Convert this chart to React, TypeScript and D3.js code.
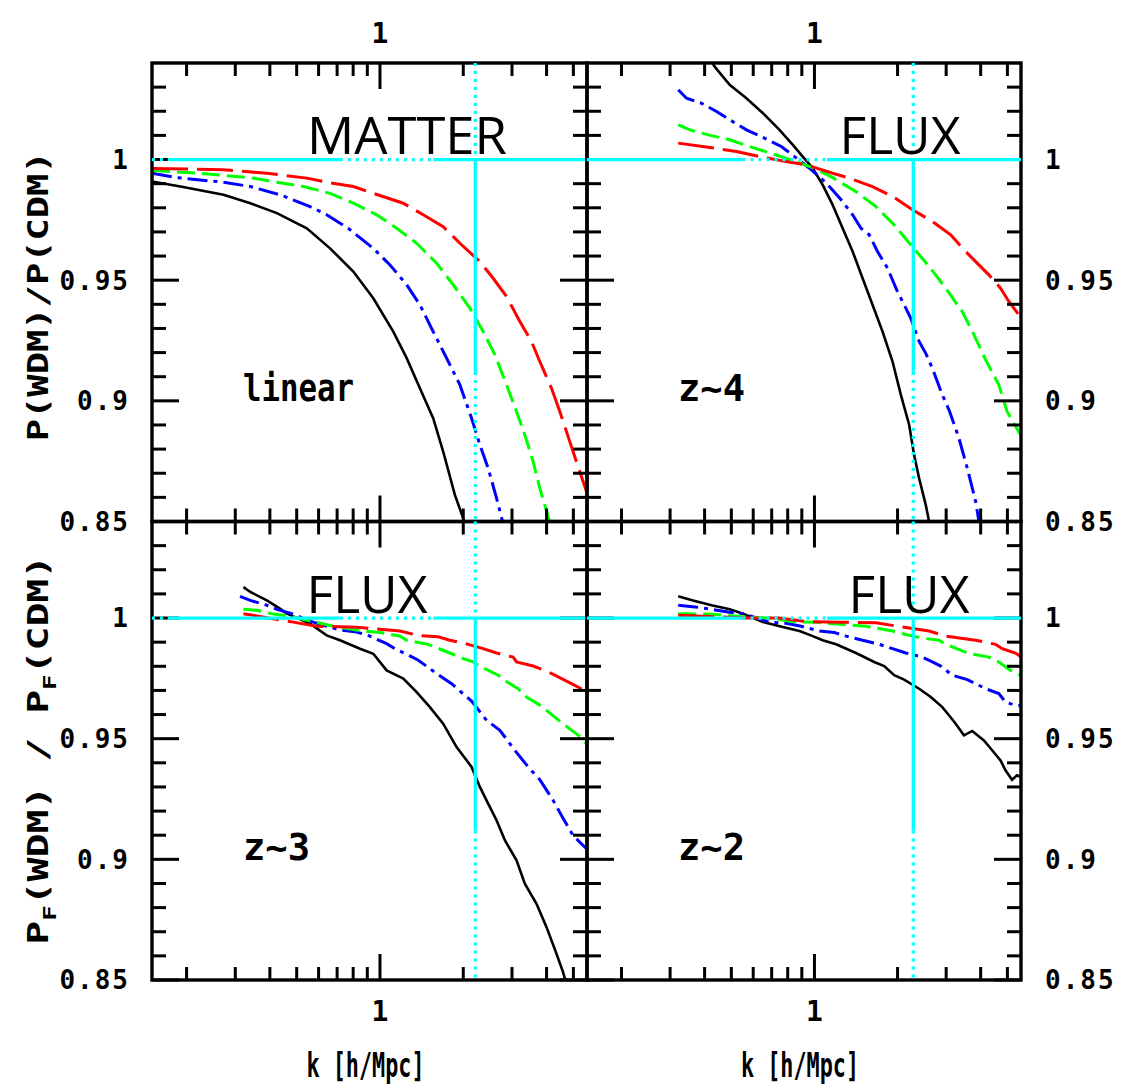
import React from 'react';
import * as d3 from 'd3';

type Pt = [number, number];

// ---- data: [k (h/Mpc), P_WDM / P_CDM] ----
const matterBlack: Pt[] = [[0.15,0.9909],[0.19,0.9888],[0.272,0.9854],[0.34,0.9819],[0.424,0.9778],[0.544,0.9715],[0.66,0.9632],[0.801,0.9536],[0.946,0.9425],[1.117,0.9287],[1.249,0.9177],[1.394,0.9052],[1.557,0.8928],[1.692,0.879],[1.865,0.861],[1.998,0.8514],[2.08,0.845]];
const matterBlue: Pt[] = [[0.15,0.9943],[0.1845,0.9925],[0.272,0.9906],[0.34,0.9888],[0.435,0.9854],[0.559,0.9805],[0.642,0.9771],[0.768,0.9715],[0.946,0.9632],[1.087,0.9563],[1.249,0.9481],[1.394,0.9398],[1.557,0.9287],[1.741,0.9177],[1.945,0.9066],[2.143,0.8928],[2.296,0.8818],[2.46,0.8721],[2.638,0.8597],[2.734,0.8528],[2.8,0.848]];
const matterGreen: Pt[] = [[0.15,0.9955],[0.221,0.9943],[0.34,0.9925],[0.424,0.9906],[0.529,0.9888],[0.66,0.986],[0.801,0.9819],[0.973,0.9771],[1.149,0.9715],[1.357,0.9653],[1.602,0.957],[1.839,0.9481],[2.113,0.9384],[2.36,0.9287],[2.602,0.9191],[2.867,0.9066],[3.115,0.8956],[3.338,0.8859],[3.577,0.8748],[3.781,0.8638],[4.052,0.8521],[4.15,0.848]];
const matterRed: Pt[] = [[0.15,0.9963],[0.272,0.9958],[0.39,0.9943],[0.544,0.9923],[0.642,0.9906],[0.801,0.9888],[0.946,0.986],[1.214,0.9819],[1.433,0.9771],[1.692,0.9722],[1.945,0.9653],[2.296,0.9577],[2.564,0.9508],[2.867,0.9432],[3.202,0.9329],[3.528,0.9246],[3.781,0.9163],[4.168,0.9052],[4.466,0.8956],[4.853,0.8831],[5.129,0.8748],[5.576,0.8624]];

const z4Black: Pt[] = [[0.4,1.045],[0.435,1.0385],[0.493,1.031],[0.567,1.0254],[0.651,1.0192],[0.747,1.0123],[0.835,1.0061],[0.907,1.0012],[0.986,0.9964],[1.071,0.9895],[1.164,0.9812],[1.265,0.9715],[1.375,0.9619],[1.494,0.9508],[1.623,0.9398],[1.765,0.9287],[1.918,0.9163],[2.056,0.9025],[2.203,0.8901],[2.296,0.8776],[2.394,0.8679],[2.53,0.8569],[2.602,0.85],[2.65,0.845]];
const z4Blue: Pt[] = [[0.321,1.0289],[0.344,1.0254],[0.39,1.0233],[0.442,1.0199],[0.493,1.0165],[0.567,1.0123],[0.642,1.0095],[0.758,1.0054],[0.817,1.0026],[0.959,0.9964],[1.071,0.9916],[1.133,0.9888],[1.249,0.9833],[1.375,0.9771],[1.474,0.9715],[1.579,0.9688],[1.692,0.9619],[1.839,0.955],[1.998,0.9453],[2.113,0.9398],[2.234,0.9342],[2.394,0.9246],[2.53,0.9197],[2.674,0.9135],[2.905,0.9025],[3.071,0.8963],[3.338,0.8845],[3.577,0.8721],[3.836,0.8583],[3.943,0.85],[4.0,0.846]];
const z4Green: Pt[] = [[0.321,1.0144],[0.354,1.0123],[0.412,1.0102],[0.493,1.0082],[0.607,1.0047],[0.758,1.0012],[1.0,0.9964],[1.164,0.9925],[1.414,0.9867],[1.67,0.9805],[1.945,0.9729],[2.234,0.9646],[2.602,0.9557],[2.988,0.9467],[3.431,0.937],[3.781,0.9274],[4.168,0.917],[4.655,0.9066],[4.986,0.8956],[5.576,0.8859]];
const z4Red: Pt[] = [[0.321,1.0068],[0.418,1.005],[0.522,1.0033],[0.633,1.0012],[0.79,0.9992],[0.933,0.9978],[1.164,0.9943],[1.338,0.9923],[1.623,0.9888],[1.918,0.9847],[2.264,0.9792],[2.674,0.9743],[3.115,0.9688],[3.528,0.9619],[3.836,0.9577],[4.282,0.9522],[4.721,0.9467],[5.058,0.9412],[5.5,0.9356],[5.6,0.934]];

const z3Black: Pt[] = [[0.321,1.0128],[0.34,1.0108],[0.39,1.0073],[0.435,1.0039],[0.461,1.0018],[0.559,0.9977],[0.642,0.9928],[0.717,0.9908],[0.847,0.9873],[0.946,0.9852],[1.057,0.9783],[1.214,0.9749],[1.357,0.9693],[1.515,0.9631],[1.692,0.9562],[1.892,0.9465],[2.143,0.9383],[2.296,0.93],[2.46,0.9231],[2.638,0.9162],[2.827,0.9079],[3.115,0.8996],[3.338,0.8899],[3.679,0.8816],[3.999,0.8719],[4.344,0.8609],[4.588,0.8533],[4.7,0.849]];
const z3Blue: Pt[] = [[0.312,1.009],[0.34,1.0073],[0.39,1.0053],[0.424,1.0036],[0.48,1.0018],[0.574,0.9983],[0.717,0.995],[0.824,0.9942],[0.92,0.9925],[1.057,0.9894],[1.133,0.9873],[1.283,0.9843],[1.375,0.9825],[1.602,0.977],[1.815,0.9728],[1.933,0.97],[2.143,0.9656],[2.428,0.9576],[2.712,0.9535],[3.071,0.9452],[3.431,0.9383],[3.781,0.933],[4.223,0.9245],[4.529,0.9182],[4.986,0.9099],[5.576,0.9044]];
const z3Green: Pt[] = [[0.321,1.0036],[0.359,1.0032],[0.406,1.0018],[0.473,1.0007],[0.678,0.9966],[0.847,0.9948],[1.0,0.994],[1.181,0.9925],[1.249,0.9908],[1.494,0.9891],[1.815,0.9852],[1.945,0.9836],[2.172,0.9818],[2.296,0.98],[2.674,0.9763],[2.787,0.9745],[3.157,0.9707],[3.385,0.9673],[3.886,0.9631],[3.999,0.9617],[4.588,0.9562],[4.783,0.9546],[5.272,0.951],[5.576,0.9479]];
const z3Red: Pt[] = [[0.321,1.0018],[0.486,0.9983],[0.591,0.9966],[0.824,0.9962],[1.181,0.9946],[1.375,0.9928],[1.623,0.9922],[1.789,0.9908],[2.084,0.9891],[2.36,0.9873],[2.638,0.9855],[3.028,0.9838],[3.115,0.9818],[3.577,0.9801],[3.943,0.9783],[4.282,0.9763],[4.92,0.9728],[5.272,0.971],[5.576,0.9693]];

const z2Black: Pt[] = [[0.321,1.009],[0.363,1.0073],[0.424,1.0053],[0.493,1.0036],[0.551,1.0018],[0.651,0.9983],[0.768,0.9963],[0.883,0.9946],[0.986,0.9925],[1.071,0.9908],[1.198,0.9891],[1.414,0.9855],[1.646,0.9818],[1.789,0.9801],[1.945,0.9763],[2.113,0.9745],[2.394,0.9707],[2.638,0.9673],[2.905,0.9631],[3.071,0.9597],[3.248,0.9562],[3.479,0.9514],[3.728,0.9532],[4.11,0.9493],[4.402,0.9452],[4.721,0.941],[4.92,0.9369],[5.198,0.933],[5.42,0.9348],[5.6,0.934]];
const z2Blue: Pt[] = [[0.321,1.0053],[0.369,1.0046],[0.424,1.0036],[0.486,1.0025],[0.551,1.0018],[0.688,0.9983],[0.79,0.9978],[0.895,0.9966],[1.043,0.9946],[1.181,0.994],[1.302,0.9925],[1.494,0.9908],[1.717,0.9891],[1.918,0.9873],[2.143,0.9855],[2.46,0.9838],[2.674,0.9818],[2.867,0.9801],[3.157,0.9763],[3.577,0.9745],[3.836,0.9728],[4.168,0.9707],[4.655,0.9687],[4.92,0.9652],[5.347,0.9638],[5.6,0.9638]];
const z2Green: Pt[] = [[0.321,1.0018],[0.429,1.0016],[0.567,1.0004],[0.688,1.0],[0.835,0.9985],[1.014,0.9982],[1.537,0.9966],[1.918,0.9946],[2.264,0.9925],[2.53,0.9915],[2.827,0.9908],[2.988,0.9891],[3.577,0.9855],[4.282,0.9838],[4.655,0.9818],[5.129,0.9783],[5.576,0.9763]];
const z2Red: Pt[] = [[0.321,1.0012],[0.559,1.0],[0.747,1.0],[0.933,0.9985],[1.265,0.9983],[1.67,0.998],[1.998,0.9966],[2.602,0.9946],[2.988,0.9925],[3.836,0.9908],[4.529,0.9891],[4.786,0.9873],[5.347,0.9855],[5.6,0.984]];

// axes
const kDomain: [number, number] = [0.15, 5.6];
const ratioDomain: [number, number] = [0.85, 1.04];
const xMajorTicks = [1];
const xMinorTicks = [0.2, 0.3, 0.4, 0.5, 0.6, 0.7, 0.8, 0.9, 2, 3, 4, 5];
const yMajorTicks = [0.85, 0.9, 0.95, 1];
const yMinorTicks = [0.86, 0.87, 0.88, 0.89, 0.91, 0.92, 0.93, 0.94, 0.96, 0.97, 0.98, 0.99, 1.01, 1.02, 1.03];
const yTickLabels = ['0.85', '0.9', '0.95', '1'];
const xTickLabels = ['1'];

// cyan reference lines: k of the vertical marker, and where the lines are dotted
const kCutLeft = 2.21;
const kCutRight = 2.28;
const hSegLeft: [number, number, boolean][] = [[0.15, 0.171, true], [0.171, 0.716, false], [0.716, 1.56, true], [1.56, 5.6, false]];
const hSegRight: [number, number, boolean][] = [[0.15, 0.549, false], [0.549, 1.11, true], [1.11, 5.6, false]];
const vSeg: [number, number, boolean][] = [[1.04, 1.0, true], [1.0, 0.912, false], [0.912, 0.85, true]];

const W = 1124;
const H = 1087;
const X0 = 152, X1 = 587, X2 = 1021;
const Y0 = 63, Y1 = 521.5, Y2 = 980;

const seriesStyle = [
  { color: '#000000', dash: null, w: 2.6 },
  { color: '#0000ff', dash: '20,6,4,6', w: 3 },
  { color: '#00ff00', dash: '18,7', w: 3 },
  { color: '#ff0000', dash: '36,9', w: 3 },
];

const panels = [
  { id: 'p1', x: [X0, X1], y: [Y0, Y1], series: [matterBlack, matterBlue, matterGreen, matterRed], title: 'MATTER', titleDx: 255, titleW: 200, label: 'linear', labelW: 111, kCut: kCutLeft, hSeg: hSegLeft, side: 'left', row: 0 },
  { id: 'p2', x: [X1, X2], y: [Y0, Y1], series: [z4Black, z4Blue, z4Green, z4Red], title: 'FLUX', titleDx: 313, titleW: 121, label: 'z~4', labelW: 67, kCut: kCutRight, hSeg: hSegRight, side: 'right', row: 0 },
  { id: 'p3', x: [X0, X1], y: [Y1, Y2], series: [z3Black, z3Blue, z3Green, z3Red], title: 'FLUX', titleDx: 215, titleW: 121, label: 'z~3', labelW: 67, kCut: kCutLeft, hSeg: hSegLeft, side: 'left', row: 1 },
  { id: 'p4', x: [X1, X2], y: [Y1, Y2], series: [z2Black, z2Blue, z2Green, z2Red], title: 'FLUX', titleDx: 322, titleW: 121, label: 'z~2', labelW: 67, kCut: kCutRight, hSeg: hSegRight, side: 'right', row: 1 },
];

const mono = '"DejaVu Sans Mono", monospace';

const Panel = ({ p }: { p: typeof panels[number] }) => {
  const x = d3.scaleLog().domain(kDomain).range(p.x);
  const y = d3.scaleLinear().domain(ratioDomain).range([p.y[1], p.y[0]]);
  const line = d3.line<Pt>().x(d => x(d[0])).y(d => y(d[1]));
  const [xa, xb] = p.x;
  const [ya, yb] = p.y;
  const tk = 3;

  return (
    <g>
      <defs>
        <clipPath id={`clip-${p.id}`}>
          <rect x={xa} y={ya} width={xb - xa} height={yb - ya} />
        </clipPath>
      </defs>
      <g clipPath={`url(#clip-${p.id})`}>
        {p.series.map((s, i) => (
          <path key={i} d={line(s) || ''} fill="none" stroke={seriesStyle[i].color} strokeWidth={seriesStyle[i].w}
            strokeDasharray={seriesStyle[i].dash || undefined} strokeLinejoin="miter" />
        ))}
      </g>

      {/* ticks on all four sides, pointing inward */}
      {xMinorTicks.concat(xMajorTicks).map(k => {
        const len = xMajorTicks.includes(k) ? 26 : 13;
        return (
          <g key={`xt${k}`} stroke="#000" strokeWidth={tk}>
            <line x1={x(k)} x2={x(k)} y1={ya} y2={ya + len} />
            <line x1={x(k)} x2={x(k)} y1={yb} y2={yb - len} />
          </g>
        );
      })}
      {yMinorTicks.concat(yMajorTicks).map(v => {
        const len = yMajorTicks.includes(v) ? 27 : 14;
        return (
          <g key={`yt${v}`} stroke="#000" strokeWidth={tk}>
            <line x1={xa} x2={xa + len} y1={y(v)} y2={y(v)} />
            <line x1={xb} x2={xb - len} y1={y(v)} y2={y(v)} />
          </g>
        );
      })}
      <rect x={xa} y={ya} width={xb - xa} height={yb - ya} fill="none" stroke="#000" strokeWidth={3.4} />

      {/* cyan reference lines, drawn over the frame */}
      {p.hSeg.map(([k0, k1, dot], i) => (
        <line key={`h${i}`} x1={x(k0)} x2={x(k1)} y1={y(1)} y2={y(1)} stroke="#00ffff" strokeWidth={3.3}
          strokeDasharray={dot ? '3,5' : undefined} />
      ))}
      {vSeg.map(([v0, v1, dot], i) => (
        <line key={`v${i}`} x1={x(p.kCut)} x2={x(p.kCut)} y1={y(v0)} y2={y(v1)} stroke="#00ffff" strokeWidth={3.3}
          strokeDasharray={dot ? '3,5' : undefined} />
      ))}

      {/* tick labels */}
      {yMajorTicks.map((v, i) => (
        <text key={`yl${v}`} x={p.side === 'left' ? xa - 22 : xb + 24} y={y(v)} dy="0.36em"
          textAnchor={p.side === 'left' ? 'end' : 'start'} fontFamily={mono} fontWeight="bold" fontSize={26}
          letterSpacing={2}>{yTickLabels[i]}</text>
      ))}
      {xMajorTicks.map((k, i) => (
        <text key={`xl${k}`} x={x(k)} y={p.row === 0 ? ya - 20 : yb + 41} textAnchor="middle"
          fontFamily={mono} fontWeight="bold" fontSize={28}>{xTickLabels[i]}</text>
      ))}
      {p.row === 1 && (
        <text x={(xa + xb) / 2 - 4} y={yb + 97} textAnchor="middle" fontFamily={mono} fontWeight="bold"
          fontSize={34} textLength={118} lengthAdjust="spacingAndGlyphs">k [h/Mpc]</text>
      )}

      {/* panel annotations */}
      <text x={xa + p.titleDx} y={ya + 91} textAnchor="middle" fontFamily='"Open Sans", sans-serif'
        fontWeight={500} fontSize={52} textLength={p.titleW} lengthAdjust="spacingAndGlyphs">{p.title}</text>
      <text x={xa + 91} y={ya + 338} fontFamily={mono} fontWeight="bold" fontSize={38}
        textLength={p.labelW} lengthAdjust="spacingAndGlyphs">{p.label}</text>
    </g>
  );
};

export default function App() {
  return (
    <svg width={W} height={H} viewBox={`0 0 ${W} ${H}`}
      style={{ position: 'absolute', left: 0, top: 0, background: '#fff' }}>
      <rect width={W} height={H} fill="#fff" />
      {panels.map(p => <Panel key={p.id} p={p} />)}
      <text transform={`translate(48, ${(Y0 + Y1) / 2 + 4}) rotate(-90)`} textAnchor="middle"
        fontFamily={mono} fontWeight="bold" fontSize={28} textLength={290} lengthAdjust="spacingAndGlyphs">
        P(WDM)/P(CDM)
      </text>
      <text transform={`translate(48, ${(Y1 + Y2) / 2 - 1}) rotate(-90)`} textAnchor="middle"
        fontFamily={mono} fontWeight="bold" fontSize={28} textLength={390} lengthAdjust="spacingAndGlyphs">
        P<tspan fontSize={18} dy={8}>F</tspan><tspan dy={-8}>(WDM) / P</tspan><tspan fontSize={18} dy={8}>F</tspan><tspan dy={-8}>(CDM)</tspan>
      </text>
    </svg>
  );
}
